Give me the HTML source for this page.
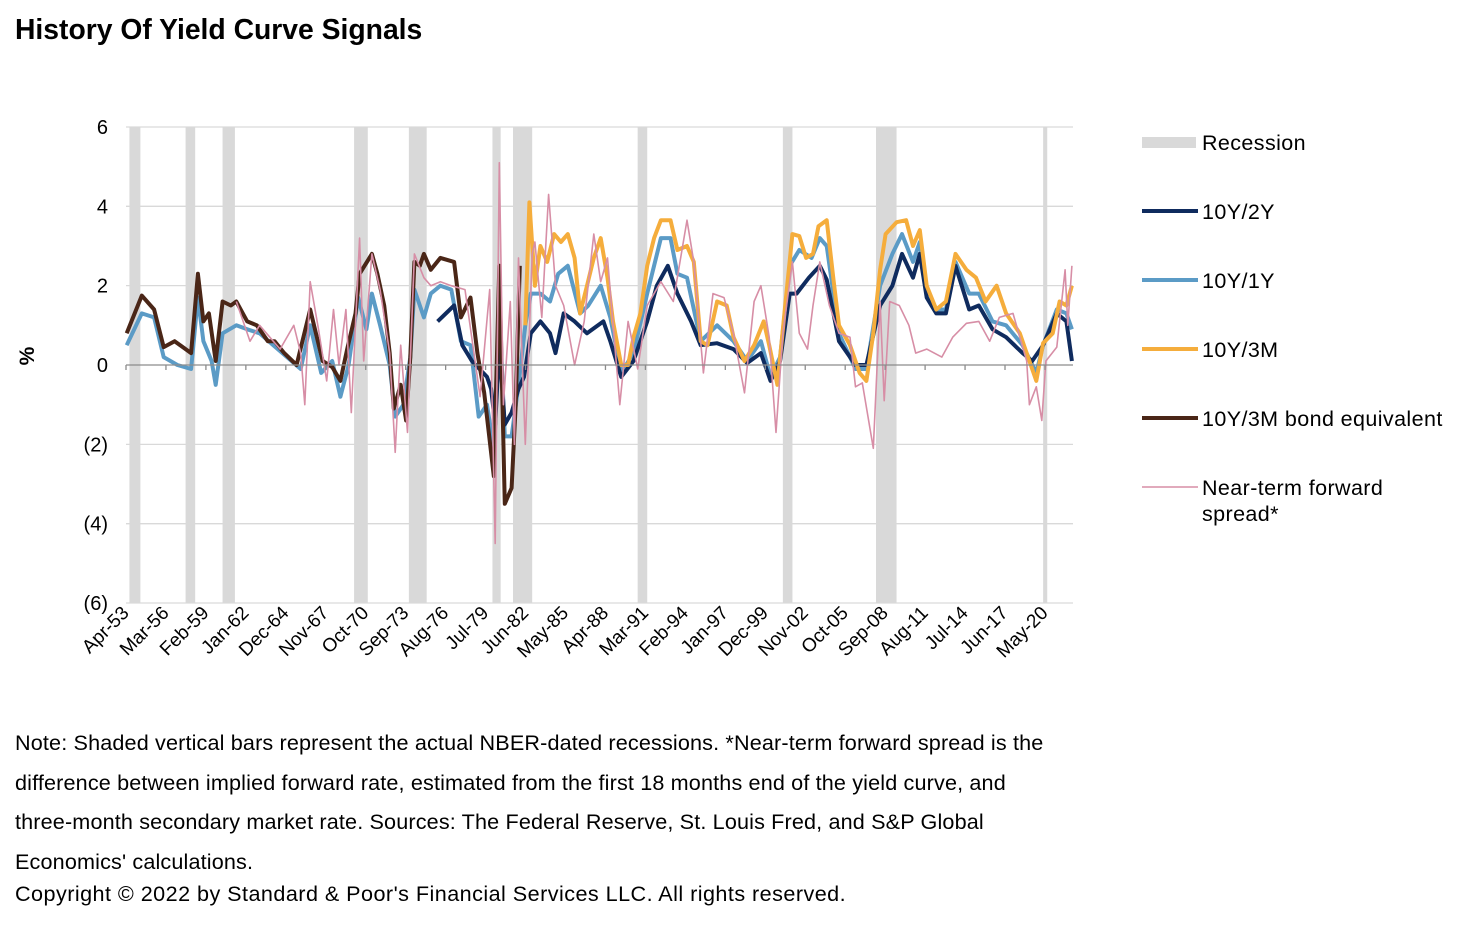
<!DOCTYPE html>
<html><head><meta charset="utf-8">
<style>
body{margin:0;background:#fff;font-family:"Liberation Sans",Arial,sans-serif;}
#wrap{position:relative;width:1466px;height:928px;overflow:hidden;}
.title{position:absolute;left:15px;top:13px;font-size:28.3px;font-weight:bold;color:#000;}
.note{position:absolute;left:15px;top:723px;width:1052px;font-size:21.6px;letter-spacing:0.15px;line-height:39.5px;color:#000;}
.copy{position:absolute;left:15px;top:881px;font-size:21.6px;letter-spacing:0.45px;color:#000;}
</style></head>
<body>
<div id="wrap">
<div class="title">History Of Yield Curve Signals</div>
<svg id="chart" width="1466" height="928" style="position:absolute;left:0;top:0"></svg>
<div class="note">Note: Shaded vertical bars represent the actual NBER-dated recessions. *Near-term forward spread is the difference between implied forward rate, estimated from the first 18 months end of the yield curve, and three&#8209;month secondary market rate. Sources: The Federal Reserve, St. Louis Fred, and S&amp;P Global Economics' calculations.</div>
<div class="copy">Copyright © 2022 by Standard &amp; Poor's Financial Services LLC. All rights reserved.</div>
</div>
<script>
const yTicks=[6,4,2,0,-2,-4,-6];
const yTickLabels=["6","4","2","0","(2)","(4)","(6)"];
const xTickLabels=["Apr-53","Mar-56","Feb-59","Jan-62","Dec-64","Nov-67","Oct-70","Sep-73","Aug-76","Jul-79","Jun-82","May-85","Apr-88","Mar-91","Feb-94","Jan-97","Dec-99","Nov-02","Oct-05","Sep-08","Aug-11","Jul-14","Jun-17","May-20"];
const recStart=[1953.5,1957.6,1960.3,1969.9,1973.9,1980.0,1981.5,1990.6,2001.2,2008.0,2020.2];
const recEnd=[1954.3,1958.3,1961.2,1970.9,1975.2,1980.6,1982.9,1991.3,2001.9,2009.5,2020.5];

const brownDates=[1953.3,1954.4,1955.3,1956,1956.8,1957.6,1958.0,1958.5,1958.9,1959.3,1959.8,1960.3,1960.9,1961.3,1962.1,1962.8,1963.6,1964.1,1964.8,1965.7,1966.7,1967.6,1968.3,1968.9,1969.4,1970.0,1970.3,1971.2,1971.6,1972.1,1972.5,1972.8,1973.3,1973.7,1974.0,1974.3,1974.7,1975.0,1975.5,1976.2,1977.2,1977.7,1978.4,1978.9,1979.4,1980.1,1980.5,1980.9,1981.4,1981.7,1982.0];
const brownVals=[0.8,1.75,1.4,0.45,0.6,0.4,0.3,2.3,1.1,1.3,0.1,1.6,1.5,1.6,1.1,1.0,0.6,0.6,0.3,0.0,1.4,0.1,-0.05,-0.4,0.4,1.3,2.3,2.8,2.3,1.5,0.3,-1.1,-0.5,-1.4,0.2,2.6,2.5,2.8,2.4,2.7,2.6,1.2,1.7,0.3,-0.7,-2.8,2.5,-3.5,-3.1,-1.0,2.5];

const lbDates=[1953.3,1954.4,1955.3,1956,1957,1958.0,1958.5,1958.9,1959.5,1959.8,1960.3,1961.3,1962.1,1963,1964,1965,1966,1966.7,1967.5,1968.3,1968.9,1969.5,1970.2,1970.8,1971.2,1971.8,1972.5,1972.9,1973.5,1974.0,1974.3,1975,1975.5,1976.2,1977,1977.7,1978.4,1979,1979.6,1980.1,1980.5,1980.9,1981.4,1981.9,1982.4,1982.8,1983.5,1984.2,1984.8,1985.5,1986.4,1987,1987.9,1988.6,1989.4,1990.3,1991.3,1992.3,1993,1993.5,1994.2,1995.2,1996.4,1997.6,1998.6,1999.6,2000.3,2001,2001.7,2002.4,2003.3,2003.9,2004.4,2005.3,2006.5,2007.3,2008.3,2009.2,2009.9,2010.7,2011.2,2011.7,2012.4,2013.1,2013.8,2014.8,2015.5,2016.5,2017.5,2018.7,2019.7,2020.2,2021.2,2021.9,2022.3];
const lbVals=[0.5,1.3,1.2,0.2,0.0,-0.1,1.7,0.6,0.1,-0.5,0.8,1.0,0.9,0.8,0.5,0.2,-0.1,1.0,-0.2,0.1,-0.8,0.0,1.7,0.9,1.8,1.0,0.0,-1.3,-1.0,0.2,1.9,1.2,1.8,2.0,1.9,0.6,0.5,-1.3,-1.0,-2.1,1.5,-1.8,-1.8,-0.5,1.0,1.8,1.8,1.6,2.3,2.5,1.3,1.5,2.0,1.2,-0.2,0.3,1.8,3.2,3.2,2.3,2.2,0.6,1.0,0.6,0.1,0.6,-0.3,0.2,2.5,2.9,2.7,3.2,3.0,0.8,-0.1,-0.1,2.0,2.8,3.3,2.6,3.1,1.8,1.4,1.4,2.6,1.8,1.8,1.1,1.0,0.5,-0.2,0.5,1.4,1.3,0.9];

const navyDates=[1976.0,1977.2,1977.8,1978.5,1979.6,1979.9,1980.2,1980.5,1980.9,1981.4,1981.9,1982.3,1982.8,1983.5,1984.2,1984.6,1985.2,1986,1986.9,1988.1,1988.6,1989.4,1990.3,1991.3,1992,1992.8,1993.5,1994.5,1995.2,1996.4,1997.6,1998.6,1999.6,2000.3,2001,2001.7,2002.2,2003.1,2003.9,2004.4,2005.3,2006.5,2007.3,2008.3,2009.2,2009.9,2010.7,2011.2,2011.7,2012.4,2013.1,2013.8,2014.8,2015.5,2016.5,2017.5,2018.7,2019.4,2020.2,2021.2,2021.9,2022.3];
const navyVals=[1.1,1.5,0.5,0.1,-0.3,-0.6,-1.5,0.5,-1.5,-1.2,-0.6,-0.3,0.8,1.1,0.8,0.3,1.3,1.1,0.8,1.1,0.6,-0.3,0.1,1.1,2.0,2.5,1.8,1.1,0.5,0.55,0.4,0.05,0.3,-0.4,0.1,1.8,1.8,2.2,2.5,2.15,0.6,0.0,0.0,1.5,2.0,2.8,2.2,2.8,1.7,1.3,1.3,2.5,1.4,1.5,0.9,0.7,0.3,0.1,0.5,1.3,1.1,0.1];

const yelDates=[1982.4,1982.7,1983.1,1983.5,1984,1984.5,1985,1985.5,1986,1986.4,1986.9,1987.4,1987.9,1988.4,1988.8,1989.4,1989.9,1990.3,1990.8,1991.3,1991.8,1992.3,1993,1993.5,1994.2,1994.7,1995.2,1995.7,1996.4,1997.1,1997.6,1998.4,1999.1,1999.8,2000.2,2000.8,2001.4,2001.9,2002.4,2002.9,2003.4,2003.8,2004.4,2004.9,2005.3,2006.1,2006.8,2007.3,2007.8,2008.3,2008.7,2009.5,2010.2,2010.7,2011.2,2011.7,2012.4,2013.1,2013.8,2014.6,2015.3,2016,2016.8,2017.5,2018.5,2019.2,2019.7,2020.2,2020.9,2021.4,2021.9,2022.3];
const yelVals=[1.0,4.1,2.0,3.0,2.6,3.3,3.1,3.3,2.7,1.3,2.0,2.7,3.2,2.2,1.1,0.0,0.0,0.7,1.3,2.5,3.2,3.65,3.65,2.9,3.0,2.6,0.6,0.5,1.6,1.5,0.7,0.1,0.5,1.1,0.5,-0.5,1.6,3.3,3.25,2.7,2.8,3.5,3.65,2.15,1.0,0.5,-0.2,-0.4,0.8,2.4,3.3,3.6,3.65,3.0,3.4,2.0,1.4,1.6,2.8,2.4,2.2,1.6,2.0,1.3,0.8,0.1,-0.4,0.55,0.8,1.6,1.5,2.0];

const pinkDates=[1961.3,1962.3,1963,1964.5,1965.5,1966.0,1966.3,1966.7,1967.3,1967.9,1968.4,1968.8,1969.3,1969.7,1970.3,1970.6,1971.2,1971.8,1972.5,1972.9,1973.3,1973.8,1974.3,1975,1975.5,1976.2,1977,1978,1979.1,1979.8,1980.2,1980.5,1980.8,1981.3,1981.6,1981.9,1982.4,1982.9,1983.1,1983.6,1984.1,1984.6,1985.2,1986,1986.7,1987.4,1987.9,1988.4,1989.3,1989.9,1990.6,1991.3,1992.3,1993.2,1994.2,1994.7,1995.4,1996.1,1996.9,1997.6,1998.4,1999.1,1999.6,2000.2,2000.7,2001.2,2001.9,2002.4,2003,2003.4,2003.9,2004.6,2005.3,2006.1,2006.5,2007,2007.8,2008.3,2008.6,2009,2009.7,2010.4,2010.9,2011.7,2012.8,2013.6,2014.6,2015.5,2016.3,2017,2018,2019,2019.2,2019.7,2020.1,2020.4,2021.2,2021.8,2022.0,2022.3];
const pinkVals=[1.6,0.6,1.0,0.4,1.0,0.3,-1.0,2.1,0.9,-0.4,1.4,0.0,1.4,-1.2,3.2,0.1,2.8,1.9,0.3,-2.2,0.5,-1.7,2.8,2.2,2.0,2.1,2.0,1.9,-0.8,1.9,-4.5,5.1,-1.0,1.6,-2.0,2.7,-2.0,2.8,3.1,1.2,4.3,2.0,1.5,0.0,1.1,3.3,2.1,2.7,-1.0,1.1,-0.1,1.5,2.1,1.6,3.65,2.6,-0.2,1.8,1.7,0.8,-0.7,1.6,2.0,0.7,-1.7,0.8,2.6,0.8,0.4,1.5,2.6,1.5,0.8,0.7,-0.55,-0.45,-2.1,1.6,-0.9,1.6,1.5,1.0,0.3,0.4,0.2,0.7,1.05,1.1,0.6,1.2,1.3,0.1,-1.0,-0.55,-1.4,0.1,0.45,2.4,1.0,2.5];

const NS="http://www.w3.org/2000/svg";
const svg=document.getElementById('chart');
const X0=126,X1=1073,T0=1953.25,T1=2022.38;
const FF='Liberation Sans, Arial, sans-serif';
function xS(t){return X0+(t-T0)/(T1-T0)*(X1-X0);}
function yS(v){return 365-v*39.67;}
function mk(tag,attrs){const e=document.createElementNS(NS,tag);for(const k in attrs)e.setAttribute(k,attrs[k]);svg.appendChild(e);return e;}

for(let i=0;i<recStart.length;i++){
  const r=mk('rect',{x:xS(recStart[i]),y:127,width:Math.max(4,xS(recEnd[i])-xS(recStart[i])),height:476,fill:'#d9d9d9'});
  
  
}
yTicks.forEach((v,i)=>{
  if(v!==0){const g=mk('line',{x1:X0,x2:X1,y1:yS(v),y2:yS(v),stroke:'#d9d9d9','stroke-width':1.3});
  
  }
  const t=mk('text',{x:108,y:yS(v)+7,'text-anchor':'end','font-size':20,'font-family':FF,fill:'#000'});
  t.textContent=yTickLabels[i];
  
  
});
const yt=mk('text',{x:0,y:0,transform:'translate(34,356) rotate(-90)','text-anchor':'middle','font-size':21,'font-weight':'bold','font-family':FF});
yt.textContent='%';



function series(d,v,color,w,name){
  const pts=d.map((t,i)=>xS(t).toFixed(1)+','+yS(v[i]).toFixed(1)).join(' ');
  const p=mk('polyline',{points:pts,fill:'none',stroke:color,'stroke-width':w,'stroke-linejoin':'round'});
  
  
}
series(lbDates,lbVals,'#5b9bc6',4,'series-10y-1y');
series(navyDates,navyVals,'#0f2b5e',4,'series-10y-2y');
series(yelDates,yelVals,'#f5ad3c',4,'series-10y-3m');
series(brownDates,brownVals,'#4a2617',4,'series-10y-3m-bond-equivalent');
series(pinkDates,pinkVals,'#d78ea6',1.6,'series-near-term-forward-spread');

const za=mk('line',{x1:X0,x2:X1,y1:365,y2:365,stroke:'#8c8c8c','stroke-width':1.3});


xTickLabels.forEach((lab,i)=>{
  const t=T0+i*35/12; const x=xS(t);
  const tk=mk('line',{x1:x,x2:x,y1:365,y2:370,stroke:'#8c8c8c','stroke-width':1.3});
  
  
  const tx=mk('text',{x:0,y:0,transform:`translate(${x+4},${614}) rotate(-45)`,'text-anchor':'end','font-size':19,'font-family':FF});
  tx.textContent=lab;
  
  
});

const legNames=['10Y/2Y','10Y/1Y','10Y/3M','10Y/3M bond equivalent'];
const legColors=['#0f2b5e','#5b9bc6','#f5ad3c','#4a2617'];
const lr=mk('rect',{x:1142,y:137,width:54,height:11,fill:'#d9d9d9'});


const lt=mk('text',{x:1202,y:150,'font-size':21.5,'letter-spacing':0.4,'font-family':FF});
lt.textContent='Recession';


legNames.forEach((n,i)=>{
  const y=211+i*69;
  const l=mk('line',{x1:1142,x2:1198,y1:y,y2:y,stroke:legColors[i],'stroke-width':4});
  
  
  const t=mk('text',{x:1202,y:y+8,'font-size':21.5,'letter-spacing':0.4,'font-family':FF});
  t.textContent=n;
  
  
});
const pl=mk('line',{x1:1142,x2:1198,y1:487,y2:487,stroke:'#d78ea6','stroke-width':1.6});


const pt1=mk('text',{x:1202,y:495,'font-size':21.5,'letter-spacing':0.4,'font-family':FF});
pt1.textContent='Near-term forward';


const pt2=mk('text',{x:1202,y:521,'font-size':21.5,'letter-spacing':0.4,'font-family':FF});
pt2.textContent='spread*';


</script>
</body></html>
